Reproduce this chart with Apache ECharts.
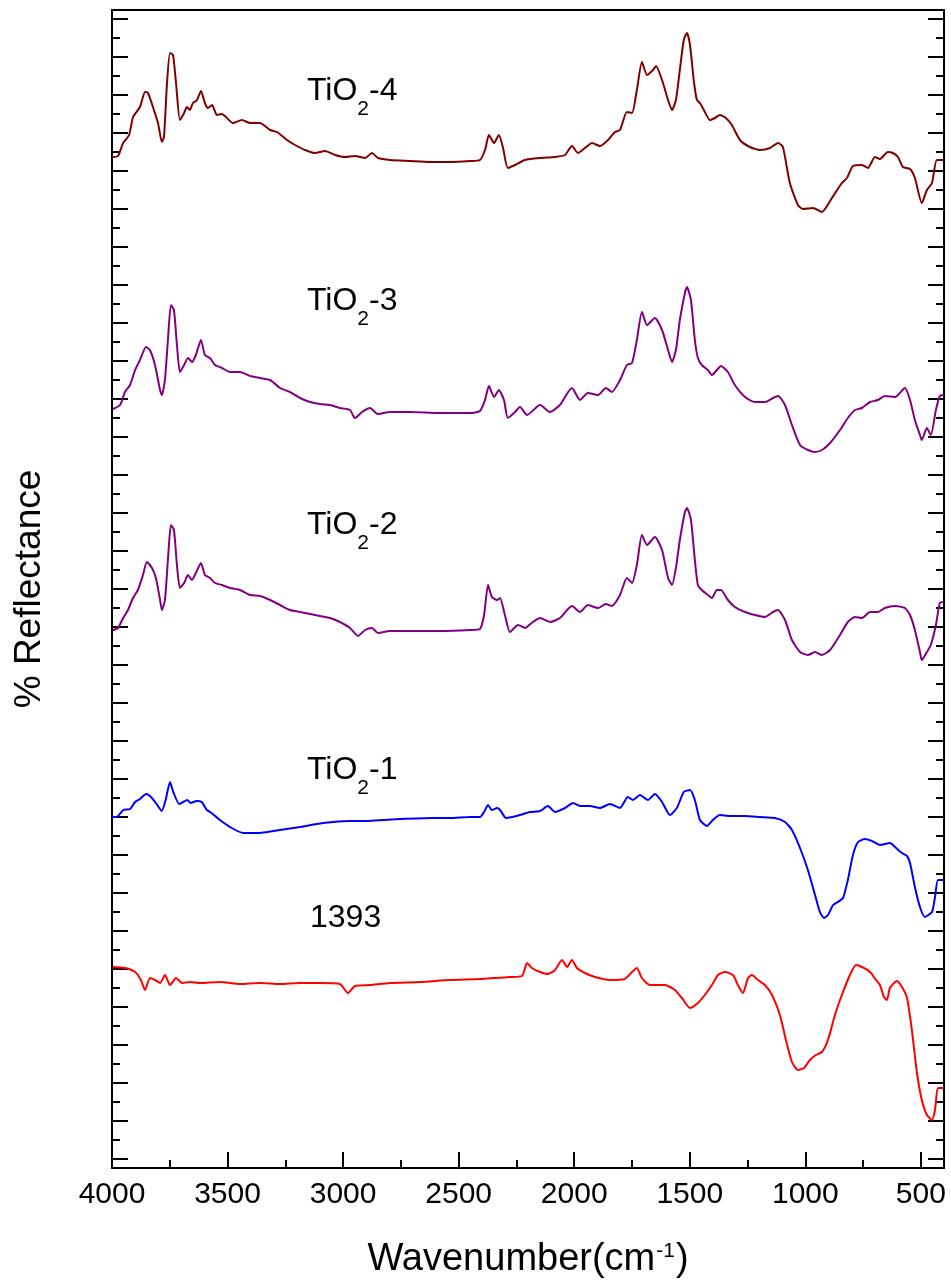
<!DOCTYPE html>
<html>
<head>
<meta charset="utf-8">
<script src="https://cdn.jsdelivr.net/npm/echarts@6/dist/echarts.min.js"></script>
<style>
html,body{margin:0;padding:0;background:#fff;}
#chart{width:951px;height:1288px;}
</style>
</head>
<body>
<div id="chart"></div>
<script>
// Wavenumbers (cm-1) and stacked reflectance (arbitrary offset units) for each sample
const wnT4 = [4000,3974,3952,3926,3909,3879,3857,3844,3823,3801,3784,3775,3762,3749,3736,3723,3706,3688,3676,3663,3650,3632,3615,3598,3585,3567,3546,3524,3507,3477,3438,3403,3360,3316,3286,3243,3208,3165,3122,3078,3035,2992,2949,2905,2875,2849,2797,2711,2624,2538,2451,2408,2386,2369,2347,2326,2308,2287,2256,2213,2148,2083,2040,2010,1984,1954,1923,1889,1854,1824,1802,1772,1750,1729,1707,1685,1659,1646,1620,1594,1577,1560,1543,1526,1512,1499,1482,1469,1456,1439,1413,1391,1370,1344,1318,1283,1240,1196,1153,1118,1097,1067,1032,1010,967,928,885,842,820,794,755,729,699,677,643,621,599,578,547,526,496,474,452,431,400];
const rT4 = [101.1,101.2,102.5,103.3,105.1,106.1,107.6,107.5,106.1,104.5,102.6,103.1,108.5,111.5,111.3,108.5,104.8,105.5,106.1,105.8,106.5,106.8,107.7,106.5,106.0,106.3,105.3,105.4,105.1,104.5,104.8,104.5,104.5,103.8,103.6,102.8,102.3,101.8,101.5,101.7,101.3,101.1,101.2,101.0,101.5,101.0,100.8,100.7,100.6,100.6,100.7,100.8,101.8,103.3,102.5,103.3,102.0,100.0,100.3,100.8,101.0,101.1,101.3,102.2,101.5,102.0,102.5,102.2,102.8,103.6,103.8,105.6,105.5,107.8,110.6,109.3,109.8,110.2,108.8,106.8,105.8,106.8,109.8,112.8,113.5,112.3,108.6,106.8,106.5,105.8,104.8,105.0,105.3,105.0,104.3,102.8,102.1,101.8,102.0,102.5,102.1,98.5,96.3,95.9,96.0,95.6,97.0,98.5,99.0,100.2,100.3,100.0,101.1,100.9,101.6,101.5,101.1,100.1,99.9,99.0,96.5,97.8,98.5,100.8,100.8];

const wnT3 = [3996,3965,3944,3922,3900,3879,3853,3836,3814,3792,3784,3771,3758,3745,3732,3719,3706,3688,3671,3654,3637,3615,3598,3576,3554,3524,3489,3446,3403,3360,3316,3273,3230,3187,3143,3100,3057,3014,2970,2949,2918,2884,2849,2797,2711,2581,2451,2408,2386,2369,2347,2326,2304,2287,2256,2235,2204,2148,2105,2062,2010,1975,1941,1897,1863,1837,1802,1772,1750,1729,1707,1685,1651,1620,1594,1577,1560,1543,1521,1512,1495,1478,1465,1448,1422,1404,1383,1365,1335,1305,1261,1218,1175,1140,1118,1088,1058,1023,989,958,928,893,850,816,785,755,720,686,656,612,569,547,526,504,496,474,457,435,418,400];
const rT3 = [75.9,76.3,77.6,78.3,79.8,80.8,82.1,81.8,80.3,77.8,77.3,78.8,82.8,86.3,85.8,82.3,79.6,80.3,81.0,80.6,81.3,82.8,81.3,81.0,80.3,80.0,79.6,79.6,79.2,79.0,78.8,78.0,77.6,77.0,76.6,76.4,76.3,76.0,75.8,75.0,75.6,76.0,75.4,75.6,75.6,75.5,75.5,75.7,76.8,78.2,77.1,77.8,76.8,75.0,75.6,76.1,75.3,76.3,75.6,76.3,78.0,76.8,77.5,77.3,78.0,77.6,78.8,80.3,80.5,82.8,85.6,84.3,85.0,83.8,81.8,80.6,81.8,84.8,87.5,88.1,86.8,82.8,81.0,80.3,79.8,79.3,79.8,80.2,79.6,78.3,77.1,76.6,76.6,77.0,77.2,76.3,74.3,72.3,71.8,71.6,71.8,72.5,73.8,75.0,75.8,76.0,76.6,76.8,77.2,77.1,78.0,76.8,74.8,73.3,72.8,74.0,73.3,75.8,77.2,77.3];

const wnT2 = [3996,3974,3952,3931,3909,3888,3866,3849,3827,3810,3792,3784,3771,3758,3745,3732,3719,3706,3688,3671,3654,3637,3615,3598,3576,3554,3524,3489,3446,3403,3360,3316,3273,3230,3187,3143,3100,3057,3014,2970,2936,2905,2875,2849,2797,2711,2581,2451,2408,2390,2373,2356,2334,2321,2300,2278,2243,2213,2179,2148,2105,2062,2010,1975,1941,1897,1863,1837,1802,1772,1750,1729,1707,1685,1651,1620,1594,1577,1560,1543,1521,1512,1495,1478,1465,1448,1422,1404,1383,1365,1335,1305,1261,1218,1175,1140,1118,1088,1058,1023,989,958,928,893,850,816,785,755,720,686,656,612,569,547,526,504,496,474,457,435,418,400];
const rT2 = [53.8,54.0,55.0,55.8,57.0,57.8,59.3,60.6,60.0,59.0,56.8,55.8,56.8,60.8,64.3,63.8,60.3,58.0,58.5,59.3,58.8,59.5,60.5,59.3,59.0,58.5,58.3,58.0,57.8,57.3,57.2,56.8,56.3,55.8,55.6,55.4,55.2,55.0,54.6,54.0,53.2,53.8,54.0,53.5,53.7,53.7,53.7,53.8,53.9,55.3,58.3,57.1,56.8,57.0,55.3,53.6,54.3,54.0,54.6,55.0,54.6,55.0,56.2,55.6,56.3,56.0,56.4,56.2,57.3,59.0,58.5,60.3,63.3,62.3,63.1,61.8,59.0,58.3,60.0,62.8,65.6,66.0,64.8,60.8,58.3,57.8,57.3,57.0,57.8,57.8,56.8,56.1,55.6,55.3,55.1,55.6,55.8,54.8,52.8,51.6,51.3,51.6,51.3,51.8,53.3,54.6,55.1,55.0,55.6,55.6,56.0,56.2,56.0,55.3,53.8,51.6,50.8,51.6,52.3,54.3,56.5,56.6];

const wnT1 = [4000,3980,3951,3922,3900,3879,3853,3836,3810,3785,3768,3749,3735,3709,3692,3674,3660,3634,3612,3590,3569,3533,3482,3432,3360,3302,3187,3114,3043,2970,2898,2826,2754,2611,2538,2451,2408,2390,2373,2356,2334,2321,2295,2269,2235,2192,2148,2114,2083,2040,2005,1975,1932,1889,1845,1802,1768,1746,1716,1681,1651,1620,1586,1556,1526,1499,1478,1456,1426,1400,1370,1326,1261,1196,1132,1088,1058,1023,989,958,937,919,902,880,859,837,816,794,772,742,712,677,634,612,582,560,547,526,504,483,452,439,426,400];
const rT1 = [35.1,35.1,35.8,35.9,36.6,36.9,37.4,37.2,36.5,35.7,36.8,38.6,37.6,36.4,36.6,36.8,36.5,36.7,36.6,35.8,35.5,34.8,34.0,33.5,33.5,33.7,34.1,34.4,34.6,34.7,34.7,34.8,34.9,35.0,35.0,35.1,35.1,35.6,36.3,35.8,36.0,35.8,35.0,35.1,35.3,35.6,35.7,36.2,35.6,36.0,36.5,36.2,36.2,36.0,36.4,36.0,37.1,36.8,37.3,36.8,37.4,36.6,35.3,36.0,37.6,37.8,36.8,34.8,34.2,34.8,35.3,35.2,35.2,35.1,35.0,34.6,33.8,32.0,29.8,27.3,25.6,25.0,25.3,26.3,26.6,27.0,28.8,31.3,32.6,32.9,32.7,32.3,32.5,32.1,31.5,31.2,30.5,28.1,26.1,25.1,25.6,27.1,28.8,28.8];

const wn1393 = [3996,3944,3900,3875,3857,3836,3814,3792,3771,3749,3723,3697,3663,3619,3533,3446,3360,3273,3187,3100,3014,2979,2949,2884,2797,2667,2538,2408,2278,2226,2204,2183,2148,2114,2083,2053,2031,2010,1988,1954,1910,1845,1781,1750,1729,1707,1672,1607,1564,1534,1499,1465,1435,1404,1378,1348,1313,1292,1270,1248,1231,1205,1175,1144,1110,1084,1058,1032,1006,980,954,928,902,872,842,807,781,755,720,694,677,660,647,634,604,582,560,539,517,496,474,452,439,426,400];
const r1393 = [20.1,20.0,19.6,18.8,17.8,19.0,18.8,18.5,19.3,18.3,19.0,18.5,18.6,18.5,18.6,18.4,18.5,18.4,18.5,18.5,18.4,17.5,18.2,18.3,18.5,18.6,18.8,18.9,19.1,19.2,20.5,20.0,19.6,19.4,19.8,20.8,20.1,20.8,20.0,19.5,19.1,18.8,18.9,19.6,20.0,19.0,18.3,18.3,17.8,17.0,16.0,16.5,17.3,18.3,19.3,19.6,19.3,18.3,17.5,19.0,19.3,18.8,18.3,17.3,15.3,12.8,10.6,9.8,10.0,10.8,11.3,11.6,12.8,15.3,17.3,19.3,20.3,20.1,19.6,18.8,18.3,17.1,16.8,18.0,18.7,18.1,17.0,13.8,9.5,6.8,5.3,4.8,5.8,8.0,8.0];

// Axis ticks and labels
const xMajorTicks = [4000,3500,3000,2500,2000,1500,1000,500];
const xMinorTicks = [3750,3250,2750,2250,1750,1250,750];
const sampleNames = ['TiO2-4','TiO2-3','TiO2-2','TiO2-1','1393'];
const sampleColors = ['#800000','#800080','#800080','#0000ff','#ff0000'];

const Y_MAX = 115.8;
// unlabeled reflectance ticks: long every 3.8 units, short in between
const yMajorTicks = [], yMinorTicks = [];
for (let k = 0; k <= 30; k++) yMajorTicks.push(+(0.9 + 3.8 * k).toFixed(2));
for (let k = 0; k < 30; k++) yMinorTicks.push(+(2.8 + 3.8 * k).toFixed(2));

const FONT = '"Liberation Sans", Arial, Helvetica, sans-serif';
const zip = (a, b) => a.map((v, i) => [v, b[i]]);
const seriesData = [zip(wnT4, rT4), zip(wnT3, rT3), zip(wnT2, rT2), zip(wnT1, rT1), zip(wn1393, r1393)];

const chart = echarts.init(document.getElementById('chart'));

function xAxisDef(opts) {
  return Object.assign({
    type: 'value', min: 400, max: 4000, inverse: true, position: 'bottom',
    axisLine: { show: false, lineStyle: { color: '#000', width: 2 } },
    axisTick: { show: false },
    axisLabel: { show: false },
    splitLine: { show: false }
  }, opts);
}
function yAxisDef(opts) {
  return Object.assign({
    type: 'value', min: 0, max: Y_MAX, position: 'left',
    axisLine: { show: false, lineStyle: { color: '#000', width: 2 } },
    axisTick: { show: false },
    axisLabel: { show: false },
    splitLine: { show: false }
  }, opts);
}
const tickStyle = { color: '#000', width: 2 };

// label for a sample: "TiO2-n" gets a subscript 2
function sampleLabel(name) {
  if (name.indexOf('TiO2') === 0) return '{a|TiO}{b|2}{a|' + name.slice(4) + '}';
  return '{a|' + name + '}';
}
const labelRich = {
  a: { fontSize: 32, fontFamily: FONT, color: '#000', lineHeight: 36, verticalAlign: 'top' },
  b: { fontSize: 21, fontFamily: FONT, color: '#000', lineHeight: 22, verticalAlign: 'top', padding: [24, 0, 0, 0] }
};
const labelPos = [[307, 75], [307, 285], [307, 509], [307, 754], [310, 902]];

chart.setOption({
  backgroundColor: '#fff',
  animation: false,
  grid: { left: 112, right: 7, top: 10, bottom: 120, containLabel: false },
  xAxis: [
    xAxisDef({
      axisLine: { show: true, onZero: false, lineStyle: { color: '#000', width: 2 } },
      axisTick: { show: true, inside: true, length: 16, customValues: xMajorTicks, lineStyle: tickStyle },
      axisLabel: {
        show: true, customValues: xMajorTicks, fontSize: 30, fontFamily: FONT, color: '#000', margin: 12,
        formatter: v => String(v)
      }
    }),
    xAxisDef({ axisTick: { show: true, inside: true, length: 8, customValues: xMinorTicks, lineStyle: tickStyle } }),
    xAxisDef({ position: 'top', axisLine: { show: true, onZero: false, lineStyle: { color: '#000', width: 2 } } })
  ],
  yAxis: [
    yAxisDef({
      axisLine: { show: true, onZero: false, lineStyle: { color: '#000', width: 2 } },
      axisTick: { show: true, inside: true, length: 16, customValues: yMajorTicks, lineStyle: tickStyle }
    }),
    yAxisDef({ axisTick: { show: true, inside: true, length: 8, customValues: yMinorTicks, lineStyle: tickStyle } }),
    yAxisDef({
      position: 'right',
      axisLine: { show: true, onZero: false, lineStyle: { color: '#000', width: 2 } },
      axisTick: { show: true, inside: true, length: 16, customValues: yMajorTicks, lineStyle: tickStyle }
    }),
    yAxisDef({ position: 'right', axisTick: { show: true, inside: true, length: 8, customValues: yMinorTicks, lineStyle: tickStyle } })
  ],
  series: seriesData.map((d, i) => ({
    name: sampleNames[i],
    type: 'line',
    data: d,
    xAxisIndex: 0,
    yAxisIndex: 0,
    showSymbol: false,
    smooth: 0.2,
    lineStyle: { color: sampleColors[i], width: 2 },
    z: 3
  })),
  graphic: [
    ...sampleNames.map((n, i) => ({
      type: 'text', x: labelPos[i][0], y: labelPos[i][1], z: 10,
      style: { text: sampleLabel(n), rich: labelRich, align: 'left', verticalAlign: 'top' }
    })),
    {
      type: 'text', x: 528, y: 1241, z: 10,
      style: {
        text: '{a|Wavenumber(cm}{s|-1}{a|)}', align: 'center', verticalAlign: 'top',
        rich: {
          a: { fontSize: 38, fontFamily: FONT, color: '#000', lineHeight: 44, verticalAlign: 'top' },
          s: { fontSize: 21, fontFamily: FONT, color: '#000', lineHeight: 24, verticalAlign: 'top', padding: [0, 1, 0, 1] }
        }
      }
    },
    {
      type: 'text', x: 30, y: 589, rotation: Math.PI / 2, z: 10,
      style: { text: '% Reflectance', font: '37px ' + FONT, fill: '#000', align: 'center', verticalAlign: 'middle' }
    }
  ]
});
</script>
</body>
</html>
